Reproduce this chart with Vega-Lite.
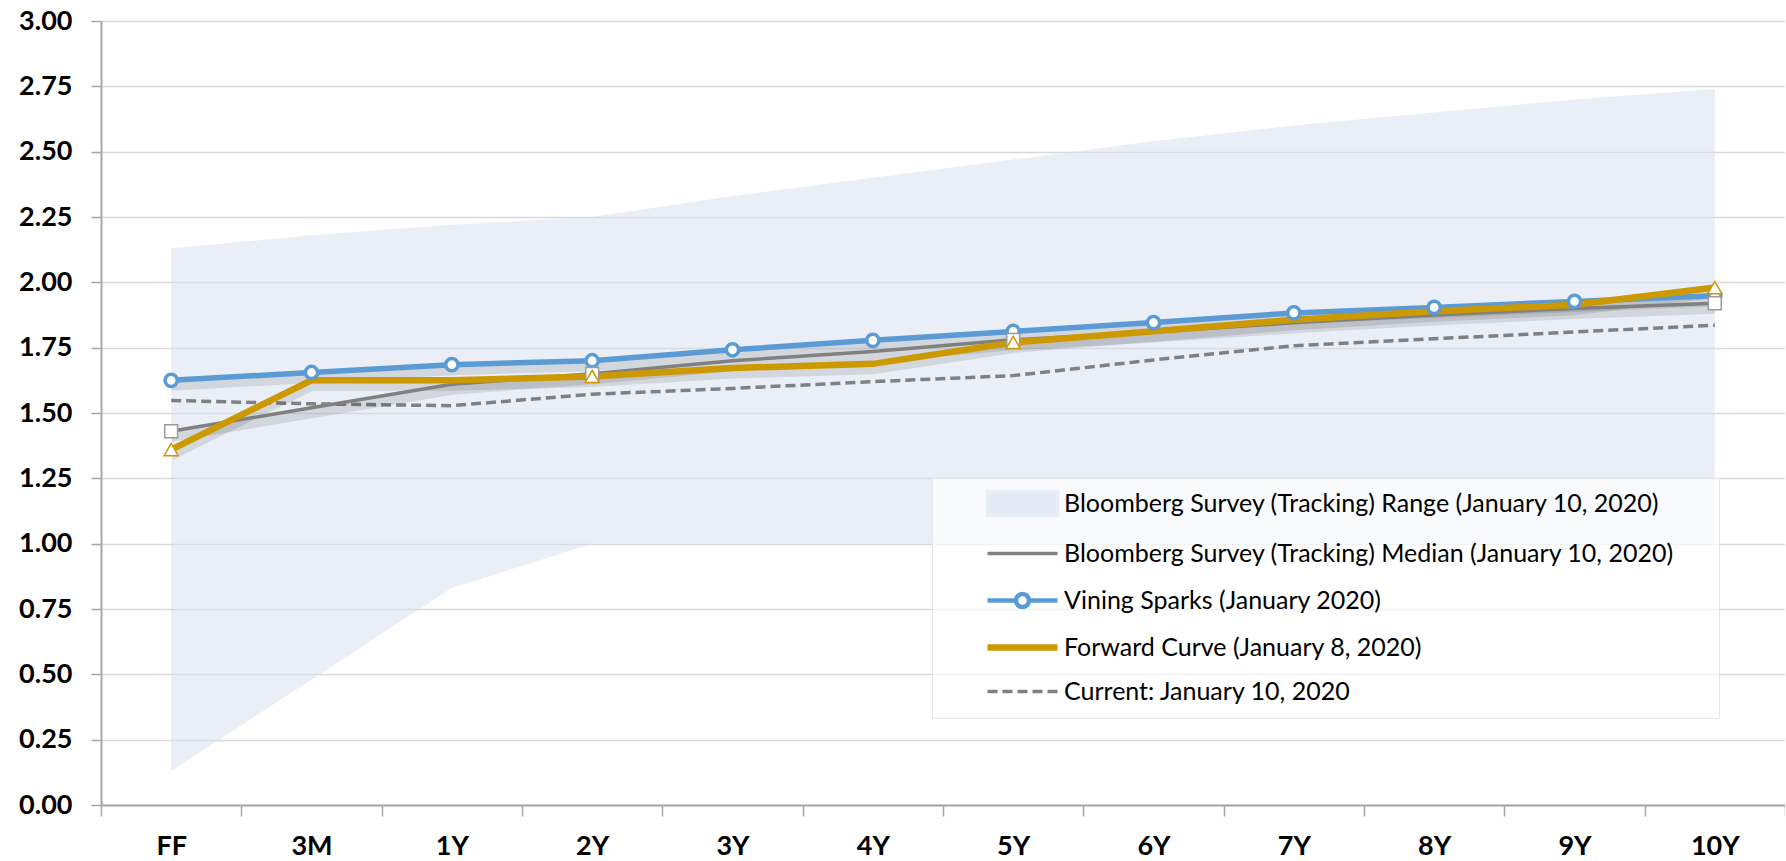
{
  "$schema": "https://vega.github.io/schema/vega-lite/v6.json",
  "width": 1684,
  "height": 784,
  "autosize": {"type": "none"},
  "padding": {"left": 101, "top": 21, "right": 0, "bottom": 56},
  "background": "white",
  "config": {"view": {"stroke": null}, "font": "Lato"},
  "datasets": {
    "band": [
      {"tenor": "FF", "value": 2.13, "lo": 0.13},
      {"tenor": "3M", "value": 2.18, "lo": 0.48},
      {"tenor": "1Y", "value": 2.22, "lo": 0.83},
      {"tenor": "2Y", "value": 2.25, "lo": 1.0},
      {"tenor": "3Y", "value": 2.33, "lo": 1.0},
      {"tenor": "4Y", "value": 2.4, "lo": 1.0},
      {"tenor": "5Y", "value": 2.47, "lo": 1.0},
      {"tenor": "6Y", "value": 2.54, "lo": 1.0},
      {"tenor": "7Y", "value": 2.6, "lo": 1.0},
      {"tenor": "8Y", "value": 2.65, "lo": 1.0},
      {"tenor": "9Y", "value": 2.7, "lo": 1.0},
      {"tenor": "10Y", "value": 2.74, "lo": 1.0}
    ],
    "lines": [
      {"tenor": "FF", "series": "Bloomberg Survey (Tracking) Median (January 10, 2020)", "value": 1.43},
      {"tenor": "3M", "series": "Bloomberg Survey (Tracking) Median (January 10, 2020)", "value": 1.52},
      {"tenor": "1Y", "series": "Bloomberg Survey (Tracking) Median (January 10, 2020)", "value": 1.61},
      {"tenor": "2Y", "series": "Bloomberg Survey (Tracking) Median (January 10, 2020)", "value": 1.65},
      {"tenor": "3Y", "series": "Bloomberg Survey (Tracking) Median (January 10, 2020)", "value": 1.7},
      {"tenor": "4Y", "series": "Bloomberg Survey (Tracking) Median (January 10, 2020)", "value": 1.735},
      {"tenor": "5Y", "series": "Bloomberg Survey (Tracking) Median (January 10, 2020)", "value": 1.78},
      {"tenor": "6Y", "series": "Bloomberg Survey (Tracking) Median (January 10, 2020)", "value": 1.81},
      {"tenor": "7Y", "series": "Bloomberg Survey (Tracking) Median (January 10, 2020)", "value": 1.845},
      {"tenor": "8Y", "series": "Bloomberg Survey (Tracking) Median (January 10, 2020)", "value": 1.875},
      {"tenor": "9Y", "series": "Bloomberg Survey (Tracking) Median (January 10, 2020)", "value": 1.9},
      {"tenor": "10Y", "series": "Bloomberg Survey (Tracking) Median (January 10, 2020)", "value": 1.92},
      {"tenor": "FF", "series": "Vining Sparks (January 2020)", "value": 1.625},
      {"tenor": "3M", "series": "Vining Sparks (January 2020)", "value": 1.655},
      {"tenor": "1Y", "series": "Vining Sparks (January 2020)", "value": 1.685},
      {"tenor": "2Y", "series": "Vining Sparks (January 2020)", "value": 1.7},
      {"tenor": "3Y", "series": "Vining Sparks (January 2020)", "value": 1.742},
      {"tenor": "4Y", "series": "Vining Sparks (January 2020)", "value": 1.778},
      {"tenor": "5Y", "series": "Vining Sparks (January 2020)", "value": 1.812},
      {"tenor": "6Y", "series": "Vining Sparks (January 2020)", "value": 1.846},
      {"tenor": "7Y", "series": "Vining Sparks (January 2020)", "value": 1.883},
      {"tenor": "8Y", "series": "Vining Sparks (January 2020)", "value": 1.904},
      {"tenor": "9Y", "series": "Vining Sparks (January 2020)", "value": 1.927},
      {"tenor": "10Y", "series": "Vining Sparks (January 2020)", "value": 1.949},
      {"tenor": "FF", "series": "Forward Curve (January 8, 2020)", "value": 1.36},
      {"tenor": "3M", "series": "Forward Curve (January 8, 2020)", "value": 1.625},
      {"tenor": "1Y", "series": "Forward Curve (January 8, 2020)", "value": 1.625},
      {"tenor": "2Y", "series": "Forward Curve (January 8, 2020)", "value": 1.64},
      {"tenor": "3Y", "series": "Forward Curve (January 8, 2020)", "value": 1.672},
      {"tenor": "4Y", "series": "Forward Curve (January 8, 2020)", "value": 1.688},
      {"tenor": "5Y", "series": "Forward Curve (January 8, 2020)", "value": 1.77},
      {"tenor": "6Y", "series": "Forward Curve (January 8, 2020)", "value": 1.813},
      {"tenor": "7Y", "series": "Forward Curve (January 8, 2020)", "value": 1.857},
      {"tenor": "8Y", "series": "Forward Curve (January 8, 2020)", "value": 1.889},
      {"tenor": "9Y", "series": "Forward Curve (January 8, 2020)", "value": 1.914},
      {"tenor": "10Y", "series": "Forward Curve (January 8, 2020)", "value": 1.98},
      {"tenor": "FF", "series": "Current: January 10, 2020", "value": 1.548},
      {"tenor": "3M", "series": "Current: January 10, 2020", "value": 1.535},
      {"tenor": "1Y", "series": "Current: January 10, 2020", "value": 1.528},
      {"tenor": "2Y", "series": "Current: January 10, 2020", "value": 1.572},
      {"tenor": "3Y", "series": "Current: January 10, 2020", "value": 1.594},
      {"tenor": "4Y", "series": "Current: January 10, 2020", "value": 1.62},
      {"tenor": "5Y", "series": "Current: January 10, 2020", "value": 1.643},
      {"tenor": "6Y", "series": "Current: January 10, 2020", "value": 1.703},
      {"tenor": "7Y", "series": "Current: January 10, 2020", "value": 1.757},
      {"tenor": "8Y", "series": "Current: January 10, 2020", "value": 1.784},
      {"tenor": "9Y", "series": "Current: January 10, 2020", "value": 1.81},
      {"tenor": "10Y", "series": "Current: January 10, 2020", "value": 1.836}
    ]
  },
  "encoding": {
    "x": {
      "field": "tenor",
      "type": "ordinal",
      "sort": ["FF", "3M", "1Y", "2Y", "3Y", "4Y", "5Y", "6Y", "7Y", "8Y", "9Y", "10Y"],
      "scale": {"type": "band", "paddingInner": 0, "paddingOuter": 0},
      "title": null,
      "axis": {
        "labelAngle": 0,
        "tickBand": "extent",
        "grid": false,
        "domainColor": "#A6A6A6",
        "domainWidth": 2,
        "tickColor": "#A6A6A6",
        "tickWidth": 1.5,
        "tickSize": 11,
        "labelFont": "Lato",
        "labelFontWeight": "bold",
        "labelFontSize": 27,
        "labelColor": "#000000",
        "labelPadding": 17
      }
    },
    "y": {
      "field": "value",
      "type": "quantitative",
      "scale": {"domain": [0, 3], "nice": false, "zero": true},
      "title": null,
      "axis": {
        "values": [0, 0.25, 0.5, 0.75, 1, 1.25, 1.5, 1.75, 2, 2.25, 2.5, 2.75, 3],
        "format": ".2f",
        "grid": true,
        "gridColor": "#D9D9D9",
        "gridWidth": 1.5,
        "domainColor": "#A6A6A6",
        "domainWidth": 2,
        "tickColor": "#A6A6A6",
        "tickWidth": 1.5,
        "tickSize": 10,
        "labelFont": "Lato",
        "labelFontWeight": "bold",
        "labelFontSize": 27,
        "labelColor": "#000000",
        "labelPadding": 19
      }
    }
  },
  "layer": [
    {
      "data": {"name": "band"},
      "mark": {"type": "area", "fill": "#D5DFF0", "opacity": 0.5},
      "encoding": {"y2": {"field": "lo"}}
    },
    {
      "data": {"name": "lines"},
      "transform": [{"filter": "datum.series === 'Current: January 10, 2020'"}],
      "mark": {"type": "line", "stroke": "#808080", "strokeWidth": 3.5, "strokeDash": [10, 5]},
      "encoding": {}
    },
    {
      "data": {"name": "lines"},
      "transform": [{"filter": "datum.series !== 'Current: January 10, 2020'"}],
      "mark": {"type": "line", "stroke": "#000000", "opacity": 0.1, "strokeWidth": 11, "yOffset": 5},
      "encoding": {"detail": {"field": "series"}}
    },
    {
      "data": {"name": "lines"},
      "transform": [{"filter": "datum.series === 'Bloomberg Survey (Tracking) Median (January 10, 2020)'"}],
      "mark": {"type": "line", "strokeWidth": 3.5},
      "encoding": {
        "color": {
          "field": "series",
          "type": "nominal",
          "scale": {
            "domain": [
              "Bloomberg Survey (Tracking) Range (January 10, 2020)",
              "Bloomberg Survey (Tracking) Median (January 10, 2020)",
              "Vining Sparks (January 2020)",
              "Forward Curve (January 8, 2020)",
              "Current: January 10, 2020"
            ],
            "range": ["#E9EEF7", "#808080", "#5B9BD5", "#CC9A00", "#808080"]
          },
          "legend": {
            "orient": "none",
            "legendX": 831,
            "legendY": 457,
            "title": "\u2003",
            "titleOrient": "right",
            "titleFontSize": 30,
            "titlePadding": 32,
            "padding": 13,
            "fillColor": "rgba(255,255,255,0.65)",
            "strokeColor": "#E6E6E6",
            "labelFont": "Lato",
            "labelFontSize": 25,
            "labelColor": "#000000",
            "labelLimit": 900,
            "symbolSize": 400,
            "symbolOffset": 65,
            "labelOffset": 29,
            "rowPadding": 18,
            "symbolType": "stroke",
            "encode": {
              "symbols": {
                "update": {
                  "shape": {"signal": "datum.index === 0 ? 'M-3.5,-1.2H3.5V1.2H-3.5Z' : datum.index === 2 ? 'M-3.5,0H-0.65M0.65,0H3.5M-0.65,0A0.65,0.65 0 1,1 0.65,0A0.65,0.65 0 1,1 -0.65,0Z' : 'M-3.5,0H3.5'"},
                  "fill": {"signal": "datum.index === 0 ? '#E4EAF5' : datum.index === 2 ? '#FFFFFF' : 'transparent'"},
                  "stroke": {"signal": "datum.index === 0 ? 'transparent' : datum.index === 2 ? '#5B9BD5' : datum.index === 3 ? '#CC9A00' : '#808080'"},
                  "strokeWidth": {"signal": "datum.index === 2 ? 4.5 : datum.index === 3 ? 6.5 : 3.5"},
                  "strokeDash": {"signal": "datum.index === 4 ? [10, 5] : []"},
                  "opacity": {"value": 1},
                  "fillOpacity": {"value": 1},
                  "strokeOpacity": {"value": 1}
                }
              }
            }
          }
        }
      }
    },
    {
      "data": {"name": "lines"},
      "transform": [{"filter": "datum.series === 'Vining Sparks (January 2020)'"}],
      "mark": {"type": "line", "stroke": "#5B9BD5", "strokeWidth": 5.5},
      "encoding": {}
    },
    {
      "data": {"name": "lines"},
      "transform": [{"filter": "datum.series === 'Forward Curve (January 8, 2020)'"}],
      "mark": {"type": "line", "stroke": "#CC9A00", "strokeWidth": 6.5},
      "encoding": {}
    },
    {
      "data": {"name": "lines"},
      "transform": [{"filter": "datum.series === 'Vining Sparks (January 2020)'"}],
      "mark": {"type": "point", "shape": "circle", "filled": true, "fill": "#FFFFFF", "stroke": "#5B9BD5", "strokeWidth": 3.5, "size": 150, "opacity": 1}
    },
    {
      "data": {"name": "lines"},
      "transform": [
        {"filter": "datum.series === 'Bloomberg Survey (Tracking) Median (January 10, 2020)'"},
        {"filter": {"field": "tenor", "oneOf": ["FF", "2Y", "5Y", "10Y"]}}
      ],
      "mark": {"type": "point", "shape": "square", "filled": true, "fill": "#FFFFFF", "stroke": "#9A9A9A", "strokeWidth": 1.5, "size": 165, "opacity": 1}
    },
    {
      "data": {"name": "lines"},
      "transform": [
        {"filter": "datum.series === 'Forward Curve (January 8, 2020)'"},
        {"filter": {"field": "tenor", "oneOf": ["FF", "2Y", "5Y", "10Y"]}}
      ],
      "mark": {"type": "point", "shape": "triangle-up", "filled": true, "fill": "#FFFFFF", "stroke": "#CC9A00", "strokeWidth": 1.5, "size": 200, "opacity": 1}
    }
  ]
}
